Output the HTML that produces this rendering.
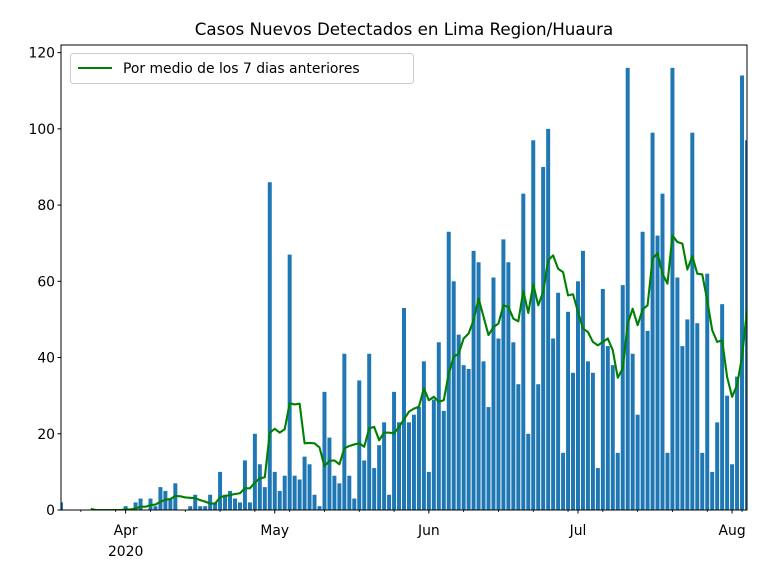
<!DOCTYPE html>
<html><head><meta charset="utf-8"><style>
html,body{margin:0;padding:0;background:#fff}
svg{display:block;font-family:"DejaVu Sans","Liberation Sans",sans-serif}
</style></head><body>
<svg id="chart" width="768" height="576" viewBox="0 0 768 576" xmlns="http://www.w3.org/2000/svg">
<rect x="0" y="0" width="768" height="576" fill="#fff"/>
<text x="404" y="35" text-anchor="middle" font-size="16.7" fill="#000">Casos Nuevos Detectados en Lima Region/Huaura</text>
<g id="bars"></g>
<g id="avgline"></g>
<g id="axes"></g>
<g>
<rect x="70.5" y="53.5" width="343" height="30" rx="3" fill="#fff" fill-opacity="0.8" stroke="#ccc"/>
<line x1="78" y1="68" x2="112" y2="68" stroke="#008000" stroke-width="2.1"/>
<text x="123" y="73" font-size="13.9" fill="#000">Por medio de los 7 dias anteriores</text>
</g>
</svg>
<script>
// Data: daily new cases starting 2020-03-19
const startDate = [2020, 2, 19];
const cases = [
2,0,0,0,0,0,0,0,0,0,0,0,0,
1,0,2,3,0,3,1,6,5,3,7,0,0,1,4,1,1,4,2,10,4,5,3,2,13,2,20,12,6,86,
10,5,9,67,9,8,14,12,4,1,31,19,9,7,41,9,3,34,13,41,11,17,23,4,31,23,53,23,25,27,39,
10,29,44,26,73,60,46,38,37,68,65,39,27,61,45,71,65,44,33,83,20,97,33,90,100,45,57,15,52,36,
60,68,39,36,11,58,43,38,15,59,116,41,25,73,47,99,72,83,15,116,61,43,50,99,49,15,62,10,23,54,30,
12,35,114,97];
// 7-day trailing average (null before first value)
const avg = [
null,null,null,null,null,null,
0.3,0,0,0,0,0,0,
0.14,0.14,0.43,0.86,0.86,1.29,1.43,2.14,2.71,2.86,3.71,3.6,3.3,3.2,3.1,2.6,2.2,1.7,1.7,3.3,3.7,3.9,4.2,4.4,5.7,5.7,7.2,8.3,8.6,20.3,
21.3,20.3,21.2,28,27.7,27.9,17.5,17.6,17.5,16.4,11.5,12.9,13,12,16.2,16.8,17.2,17.5,16.6,21.4,21.8,18.3,20.3,20.3,20.1,21.8,23.8,25.8,26.6,27.1,31.9,
28.8,29.7,28.4,28.8,35.8,40.2,41,45,46.3,49.8,55.5,50.7,45.9,48,48.9,53.7,53.3,50.2,49.5,57.5,51.7,59.2,53.7,57.2,65.5,66.8,63.3,62.4,56.3,56.6,
52,47.6,46.7,44.1,43.2,44.1,45,41.9,34.7,37.1,48.9,52.8,48.5,52.6,53.7,65.9,67.4,62,59.4,72,70.3,69.9,63.1,66.6,62,61.8,55,47.2,44.1,44.5,34.9,
29.7,32.8,40.2,52.4];
const yTicks = [0,20,40,60,80,100,120];
const monthTicks = ["2020-04-01","2020-05-01","2020-06-01","2020-07-01","2020-08-01"];
const monthLabels = ["Apr","May","Jun","Jul","Aug"];

const NS = "http://www.w3.org/2000/svg";
const L = 61, R = 747, T = 45, B = 510;
const x0 = 0, x1 = 138, yMax = 122;
const t0 = Date.UTC(startDate[0], startDate[1], startDate[2]);
function dayOf(s){ const p=s.split("-"); return (Date.UTC(+p[0],+p[1]-1,+p[2])-t0)/86400000; }
function xs(d){ return L + (d - x0) / (x1 - x0) * (R - L); }
function ys(v){ return B - v / yMax * (B - T); }
function mk(tag, attrs, parent){ const e=document.createElementNS(NS,tag); for(const k in attrs) e.setAttribute(k,attrs[k]); parent.appendChild(e); return e; }

const defs = mk("defs",{},document.getElementById("chart"));
const cp = mk("clipPath",{id:"plotclip"},defs);
mk("rect",{x:L,y:T,width:R-L,height:B-T},cp);

const gb = document.getElementById("bars");
gb.setAttribute("clip-path","url(#plotclip)");
const bw = (R-L)/(x1-x0)*0.8;
cases.forEach((v,i)=>{
  if(v<=0) return;
  const r = mk("rect",{x:xs(i)-bw/2,y:ys(v),width:bw,height:ys(0)-ys(v),fill:"#1f77b4"},gb);
  
  
});

const gl = document.getElementById("avgline");
gl.setAttribute("clip-path","url(#plotclip)");
let dstr = "";
avg.forEach((v,i)=>{ if(v===null) return; dstr += (dstr?"L":"M") + xs(i).toFixed(2) + "," + ys(v).toFixed(2); });
const pl = mk("path",{d:dstr,fill:"none",stroke:"#008000","stroke-width":2.1,"stroke-linejoin":"round"},gl);



const ga = document.getElementById("axes");
const frame = mk("rect",{x:L,y:T,width:R-L,height:B-T,fill:"none",stroke:"#000","stroke-width":1},ga);


yTicks.forEach(v=>{
  const y = ys(v);
  const tk = mk("line",{x1:L-3.5,y1:y,x2:L,y2:y,stroke:"#000","stroke-width":1},ga);
  
  
  const tx = mk("text",{x:L-6,y:y+5,"text-anchor":"end","font-size":13.9,fill:"#000"},ga);
  tx.textContent = v;
  
  
});
for(let d=dayOf("2020-03-23"); d<=x1; d+=7){
  const tk = mk("line",{x1:xs(d),y1:B,x2:xs(d),y2:B+2,stroke:"#000","stroke-width":0.8},ga);
  
  
}
monthTicks.forEach((m,i)=>{
  const x = xs(dayOf(m));
  const tk = mk("line",{x1:x,y1:B,x2:x,y2:B+3.5,stroke:"#000","stroke-width":1},ga);
  
  
  const tx = mk("text",{x:x,y:B+25,"text-anchor":"middle","font-size":13.9,fill:"#000"},ga);
  tx.textContent = monthLabels[i];
  
  
});
const yr = mk("text",{x:xs(dayOf(monthTicks[0])),y:B+46,"text-anchor":"middle","font-size":13.9,fill:"#000"},ga);
yr.textContent = "2020";


</script>
</body></html>
